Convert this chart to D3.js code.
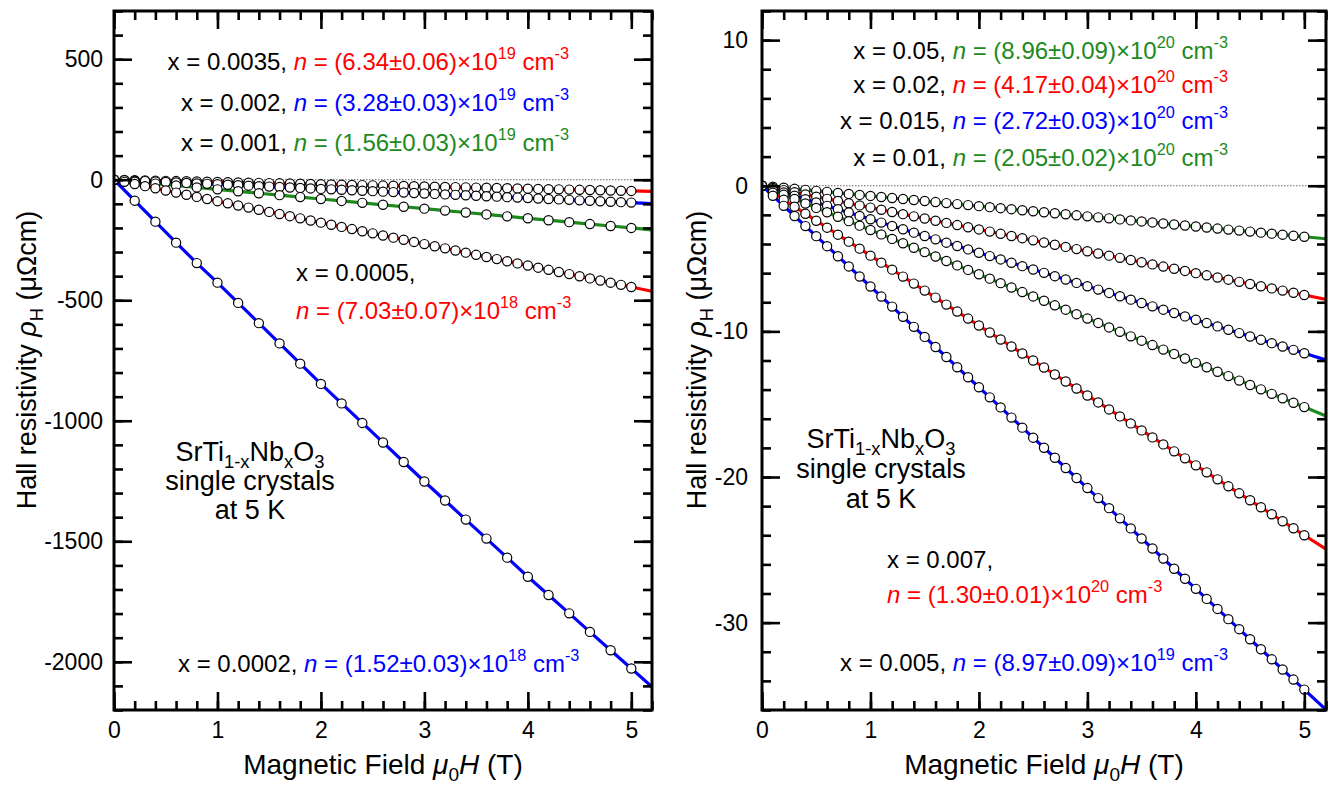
<!DOCTYPE html>
<html>
<head>
<meta charset="utf-8">
<script src="https://cdn.jsdelivr.net/npm/d3@7"></script>
<style>
body { margin: 0; background: #fff; }
svg { display: block; font-family: "Liberation Sans", Arial, sans-serif; }
</style>
</head>
<body>
<svg id="chart" width="1335" height="785"></svg>
<script>
// magnetic field values (T)
var fields01 = [0, 0.1, 0.2, 0.3, 0.4, 0.5, 0.6, 0.7, 0.8, 0.9, 1.0, 1.1, 1.2, 1.3, 1.4, 1.5, 1.6, 1.7, 1.8, 1.9,
  2.0, 2.1, 2.2, 2.3, 2.4, 2.5, 2.6, 2.7, 2.8, 2.9, 3.0, 3.1, 3.2, 3.3, 3.4, 3.5, 3.6, 3.7, 3.8, 3.9,
  4.0, 4.1, 4.2, 4.3, 4.4, 4.5, 4.6, 4.7, 4.8, 4.9, 5.0];
var fields02 = [0, 0.2, 0.4, 0.6, 0.8, 1.0, 1.2, 1.4, 1.6, 1.8, 2.0, 2.2, 2.4, 2.6, 2.8, 3.0, 3.2, 3.4, 3.6, 3.8,
  4.0, 4.2, 4.4, 4.6, 4.8, 5.0];

// left panel, Hall resistivity (uOhm cm)
var rho0035 = [0, -0.9, -1.9, -2.8, -3.7, -4.7, -5.6, -6.5, -7.4, -8.4, -9.3, -10.2, -11.2, -12.1, -13.0, -14.0, -14.9,
  -15.8, -16.7, -17.7, -18.6, -19.5, -20.5, -21.4, -22.3, -23.3, -24.2, -25.1, -26.0, -27.0, -27.9, -28.8, -29.8,
  -30.7, -31.6, -32.6, -33.5, -34.4, -35.3, -36.3, -37.2, -38.1, -39.1, -40.0, -40.9, -41.9, -42.8, -43.7, -44.6,
  -45.6, -46.5];
var rho002 = [0, -1.9, -3.8, -5.7, -7.6, -9.5, -11.4, -13.3, -15.2, -17.1, -19.0, -20.9, -22.8, -24.7, -26.6, -28.5,
  -30.4, -32.3, -34.2, -36.1, -38.0, -39.9, -41.8, -43.7, -45.6, -47.5, -49.4, -51.3, -53.2, -55.1, -57.0, -58.9,
  -60.8, -62.7, -64.6, -66.5, -68.4, -70.3, -72.2, -74.1, -76.0, -77.9, -79.8, -81.7, -83.6, -85.5, -87.4, -89.3,
  -91.2, -93.1, -95.0];
var rho001 = [0, -8, -16, -24, -32, -40, -48, -56, -64, -72, -80, -88, -96, -104, -112, -120, -128, -136, -144, -152,
  -160, -168, -176, -184, -192, -200];
var rho0005 = [0, -8.9, -17.8, -26.7, -35.6, -44.5, -53.4, -62.3, -71.2, -80.1, -89.0, -97.9, -106.8, -115.7, -124.6,
  -133.5, -142.4, -151.3, -160.2, -169.1, -178.0, -186.9, -195.8, -204.7, -213.6, -222.5, -231.4, -240.3, -249.2,
  -258.1, -267.0, -275.9, -284.8, -293.7, -302.6, -311.5, -320.4, -329.3, -338.2, -347.1, -356.0, -364.9, -373.8,
  -382.7, -391.6, -400.5, -409.4, -418.3, -427.2, -436.1, -445.0];
var rho0002 = [0, -87, -174, -261, -346, -427, -511, -595, -679, -763, -847, -928, -1009, -1090, -1171, -1252, -1331,
  -1410, -1489, -1568, -1647, -1723, -1799, -1876, -1952, -2028];
// fit lines at the right edge (5.2 T): 0.0035, 0.002, 0.001, 0.0005, 0.0002
var leftFitEnd = [-48.4, -98.8, -208, -462.8, -2104];

// right panel
var rho05 = [0, -0.07, -0.14, -0.21, -0.28, -0.35, -0.42, -0.49, -0.56, -0.63, -0.70, -0.77, -0.84, -0.91, -0.98,
  -1.05, -1.12, -1.19, -1.26, -1.33, -1.40, -1.47, -1.54, -1.61, -1.68, -1.75, -1.82, -1.89, -1.96, -2.03, -2.10,
  -2.17, -2.24, -2.31, -2.38, -2.45, -2.52, -2.59, -2.66, -2.73, -2.80, -2.87, -2.94, -3.01, -3.08, -3.15, -3.22,
  -3.29, -3.36, -3.43, -3.50];
var rho02 = [0, -0.15, -0.30, -0.45, -0.60, -0.75, -0.90, -1.05, -1.20, -1.35, -1.50, -1.65, -1.80, -1.95, -2.10,
  -2.25, -2.40, -2.55, -2.70, -2.85, -3.00, -3.15, -3.30, -3.45, -3.60, -3.75, -3.90, -4.05, -4.20, -4.35, -4.50,
  -4.65, -4.80, -4.95, -5.10, -5.25, -5.40, -5.55, -5.70, -5.85, -6.00, -6.15, -6.30, -6.45, -6.60, -6.75, -6.90,
  -7.05, -7.20, -7.35, -7.50];
var rho015 = [0, -0.23, -0.46, -0.69, -0.92, -1.15, -1.38, -1.61, -1.84, -2.07, -2.30, -2.53, -2.76, -2.99, -3.22,
  -3.45, -3.68, -3.91, -4.14, -4.37, -4.60, -4.83, -5.06, -5.29, -5.52, -5.75, -5.98, -6.21, -6.44, -6.67, -6.90,
  -7.13, -7.36, -7.59, -7.82, -8.05, -8.28, -8.51, -8.74, -8.97, -9.20, -9.43, -9.66, -9.89, -10.12, -10.35, -10.58,
  -10.81, -11.04, -11.27, -11.50];
var rho01 = [0, -0.30, -0.61, -0.91, -1.22, -1.52, -1.82, -2.13, -2.43, -2.74, -3.04, -3.34, -3.65, -3.95, -4.26,
  -4.56, -4.86, -5.17, -5.47, -5.78, -6.08, -6.38, -6.69, -6.99, -7.30, -7.60, -7.90, -8.21, -8.51, -8.82, -9.12,
  -9.42, -9.73, -10.03, -10.34, -10.64, -10.94, -11.25, -11.55, -11.86, -12.16, -12.46, -12.77, -13.07, -13.38,
  -13.68, -13.98, -14.29, -14.59, -14.90, -15.20];
var rho007 = [0, -0.48, -0.96, -1.44, -1.92, -2.40, -2.88, -3.36, -3.84, -4.32, -4.80, -5.28, -5.76, -6.24, -6.72,
  -7.20, -7.68, -8.16, -8.64, -9.12, -9.60, -10.08, -10.56, -11.04, -11.52, -12.00, -12.48, -12.96, -13.44, -13.92,
  -14.40, -14.88, -15.36, -15.84, -16.32, -16.80, -17.28, -17.76, -18.24, -18.72, -19.20, -19.68, -20.16, -20.64,
  -21.12, -21.60, -22.08, -22.56, -23.04, -23.52, -24.00];
var rho005 = [0, -0.69, -1.38, -2.08, -2.77, -3.46, -4.15, -4.84, -5.54, -6.23, -6.92, -7.61, -8.30, -9.00, -9.69,
  -10.38, -11.07, -11.76, -12.46, -13.15, -13.84, -14.53, -15.22, -15.92, -16.61, -17.30, -17.99, -18.68, -19.38,
  -20.07, -20.76, -21.45, -22.14, -22.84, -23.53, -24.22, -24.91, -25.60, -26.30, -26.99, -27.68, -28.37, -29.06,
  -29.76, -30.45, -31.14, -31.83, -32.52, -33.22, -33.91, -34.60];
// 0.05, 0.02, 0.015, 0.01, 0.007, 0.005
var rightFitEnd = [-3.64, -7.80, -11.96, -15.81, -24.96, -35.98];

var xTicks = [0, 1, 2, 3, 4, 5];
var leftYTicks = [500, 0, -500, -1000, -1500, -2000];
var rightYTicks = [10, 0, -10, -20, -30];

var RED = "#ff0000", BLUE = "#0000ff", GREEN = "#1e8a1e";

var svg = d3.select("#chart");

var leftSeries = [
  {x: fields01, y: rho0035, color: RED, end: leftFitEnd[0]},
  {x: fields01, y: rho002, color: BLUE, end: leftFitEnd[1]},
  {x: fields02, y: rho001, color: GREEN, end: leftFitEnd[2]},
  {x: fields01, y: rho0005, color: RED, end: leftFitEnd[3]},
  {x: fields02, y: rho0002, color: BLUE, end: leftFitEnd[4]}
];
var rightSeries = [
  {x: fields01, y: rho05, color: GREEN, end: rightFitEnd[0]},
  {x: fields01, y: rho02, color: RED, end: rightFitEnd[1]},
  {x: fields01, y: rho015, color: BLUE, end: rightFitEnd[2]},
  {x: fields01, y: rho01, color: GREEN, end: rightFitEnd[3]},
  {x: fields01, y: rho007, color: RED, end: rightFitEnd[4]},
  {x: fields01, y: rho005, color: BLUE, end: rightFitEnd[5]}
];

// text with super/subscripts, parts: {t, c, i, sup, sub}
function rich(sel, x, y, anchor, size, parts, rotate) {
  var t = sel.append("text").attr("x", x).attr("y", y)
    .attr("text-anchor", anchor).attr("font-size", size);
  if (rotate) t.attr("transform", "rotate(-90," + x + "," + y + ")");
  var cur = 0;
  parts.forEach(function (p) {
    var shift = p.sup ? -size * 0.45 : (p.sub ? size * 0.26 : 0);
    var s = t.append("tspan").text(p.t).attr("dy", shift - cur);
    cur = shift;
    if (p.c) s.attr("fill", p.c);
    if (p.i) s.attr("font-style", "italic");
    if (p.sup || p.sub) s.attr("font-size", size * 0.68);
  });
  return t;
}

function panel(opt) {
  var x = d3.scaleLinear().domain([0, 5.2]).range([opt.left, opt.right]);
  var y = d3.scaleLinear().domain(opt.yDomain).range([opt.bottom, opt.top]);
  var g = svg.append("g");
  var clipId = "clip" + opt.left;
  svg.append("clipPath").attr("id", clipId).append("rect")
    .attr("x", opt.left).attr("y", opt.top)
    .attr("width", opt.right - opt.left).attr("height", opt.bottom - opt.top);

  // zero line
  g.append("line")
    .attr("x1", x(0)).attr("x2", x(5.2)).attr("y1", y(0)).attr("y2", y(0))
    .attr("stroke", "#666").attr("stroke-width", 1).attr("stroke-dasharray", "1.5,1.5");

  var plot = g.append("g").attr("clip-path", "url(#" + clipId + ")");
  var line = d3.line().x(function (d) { return x(d[0]); }).y(function (d) { return y(d[1]); });
  opt.series.forEach(function (s) {
    var pts = s.x.map(function (f, i) { return [f, s.y[i]]; });
    pts.push([5.2, s.end]);
    plot.append("path").attr("d", line(pts)).attr("fill", "none")
      .attr("stroke", s.color).attr("stroke-width", 3.2);
  });
  opt.series.forEach(function (s) {
    plot.append("g").selectAll("circle")
      .data(s.x.map(function (f, i) { return [f, s.y[i]]; }))
      .join("circle")
      .attr("cx", function (d) { return x(d[0]); })
      .attr("cy", function (d) { return y(d[1]); })
      .attr("r", 4.6)
      .attr("fill", "#fff").attr("stroke", "#000").attr("stroke-width", 1.2);
  });

  // axes: ticks on all four sides, pointing inward
  var xMinor = d3.range(0, 5.21, 0.2);
  var yMinor = d3.range(opt.yDomain[0], opt.yDomain[1] + 1e-9, opt.yMinor);
  var fmt = function (d) { return String(d); };
  function styleAxis(a) {
    a.select(".domain").remove();
    a.selectAll("line").attr("stroke-width", 2.6);
    a.selectAll("text").attr("font-size", 23).attr("font-family", "Liberation Sans, Arial, sans-serif").attr("fill", "#000");
  }
  svg.append("g").attr("transform", "translate(0," + opt.bottom + ")")
    .call(d3.axisBottom(x).tickValues(xMinor).tickSize(-9).tickFormat("")).call(styleAxis);
  svg.append("g").attr("transform", "translate(0," + opt.bottom + ")")
    .call(d3.axisBottom(x).tickValues(xTicks).tickSize(-18).tickPadding(12).tickFormat(fmt)).call(styleAxis);
  svg.append("g").attr("transform", "translate(0," + opt.top + ")")
    .call(d3.axisTop(x).tickValues(xMinor).tickSize(-9).tickFormat("")).call(styleAxis);
  svg.append("g").attr("transform", "translate(0," + opt.top + ")")
    .call(d3.axisTop(x).tickValues(xTicks).tickSize(-18).tickFormat("")).call(styleAxis);
  svg.append("g").attr("transform", "translate(" + opt.left + ",0)")
    .call(d3.axisLeft(y).tickValues(yMinor).tickSize(-9).tickFormat("")).call(styleAxis);
  svg.append("g").attr("transform", "translate(" + opt.left + ",0)")
    .call(d3.axisLeft(y).tickValues(opt.yTicks).tickSize(-18).tickPadding(opt.yPad).tickFormat(fmt)).call(styleAxis);
  svg.append("g").attr("transform", "translate(" + opt.right + ",0)")
    .call(d3.axisRight(y).tickValues(yMinor).tickSize(-9).tickFormat("")).call(styleAxis);
  svg.append("g").attr("transform", "translate(" + opt.right + ",0)")
    .call(d3.axisRight(y).tickValues(opt.yTicks).tickSize(-18).tickFormat("")).call(styleAxis);

  svg.append("rect")
    .attr("x", opt.left).attr("y", opt.top)
    .attr("width", opt.right - opt.left).attr("height", opt.bottom - opt.top)
    .attr("fill", "none").attr("stroke", "#000").attr("stroke-width", 3);

  // axis titles
  rich(svg, (opt.left + opt.right) / 2, 774, "middle", 28,
    [{t: "Magnetic Field "}, {t: "μ", i: 1}, {t: "0", sub: 1}, {t: "H", i: 1}, {t: " (T)"}]);
  rich(svg, opt.yTitleX, 360, "middle", 27,
    [{t: "Hall resistivity "}, {t: "ρ", i: 1}, {t: "H", sub: 1}, {t: " (μΩcm)"}], true);

  // sample label
  var c = opt.sample;
  rich(svg, c[0], c[1], "middle", 27, [{t: "SrTi"}, {t: "1-x", sub: 1}, {t: "Nb"}, {t: "x", sub: 1}, {t: "O"}, {t: "3", sub: 1}]);
  rich(svg, c[0], c[1] + c[2], "middle", 27, [{t: "single crystals"}]);
  rich(svg, c[0], c[1] + 2 * c[2], "middle", 27, [{t: "at 5 K"}]);
}

function nParts(label, val, exp, color) {
  var p = [];
  if (label) p.push({t: label});
  return p.concat([{t: "n", i: 1, c: color}, {t: " = (" + val + ")×10", c: color}, {t: exp, sup: 1, c: color},
    {t: " cm", c: color}, {t: "-3", sup: 1, c: color}]);
}

panel({left: 114, right: 652, top: 11, bottom: 710, yDomain: [-2200, 700], yMinor: 100,
  yTicks: leftYTicks, yPad: 11, yTitleX: 36, series: leftSeries, sample: [250, 461, 29]});
panel({left: 762, right: 1326, top: 11, bottom: 710, yDomain: [-36, 12], yMinor: 2,
  yTicks: rightYTicks, yPad: 14, yTitleX: 706, series: rightSeries, sample: [881, 448, 30]});

// left annotations
var AS = 24;
rich(svg, 569, 70, "end", AS, nParts("x = 0.0035, ", "6.34±0.06", "19", RED));
rich(svg, 569, 111, "end", AS, nParts("x = 0.002, ", "3.28±0.03", "19", BLUE));
rich(svg, 569, 151, "end", AS, nParts("x = 0.001, ", "1.56±0.03", "19", GREEN));
rich(svg, 296, 281, "start", AS, [{t: "x = 0.0005,"}]);
rich(svg, 296, 319, "start", AS, nParts("", "7.03±0.07", "18", RED));
rich(svg, 178, 672, "start", AS, nParts("x = 0.0002, ", "1.52±0.03", "18", BLUE));

// right annotations
rich(svg, 1228, 59, "end", AS, nParts("x = 0.05, ", "8.96±0.09", "20", GREEN));
rich(svg, 1228, 93, "end", AS, nParts("x = 0.02, ", "4.17±0.04", "20", RED));
rich(svg, 1228, 129, "end", AS, nParts("x = 0.015, ", "2.72±0.03", "20", BLUE));
rich(svg, 1228, 166, "end", AS, nParts("x = 0.01, ", "2.05±0.02", "20", GREEN));
rich(svg, 887, 568, "start", AS, [{t: "x = 0.007,"}]);
rich(svg, 887, 603, "start", AS, nParts("", "1.30±0.01", "20", RED));
rich(svg, 840, 671, "start", AS, nParts("x = 0.005, ", "8.97±0.09", "19", BLUE));
</script>
</body>
</html>
